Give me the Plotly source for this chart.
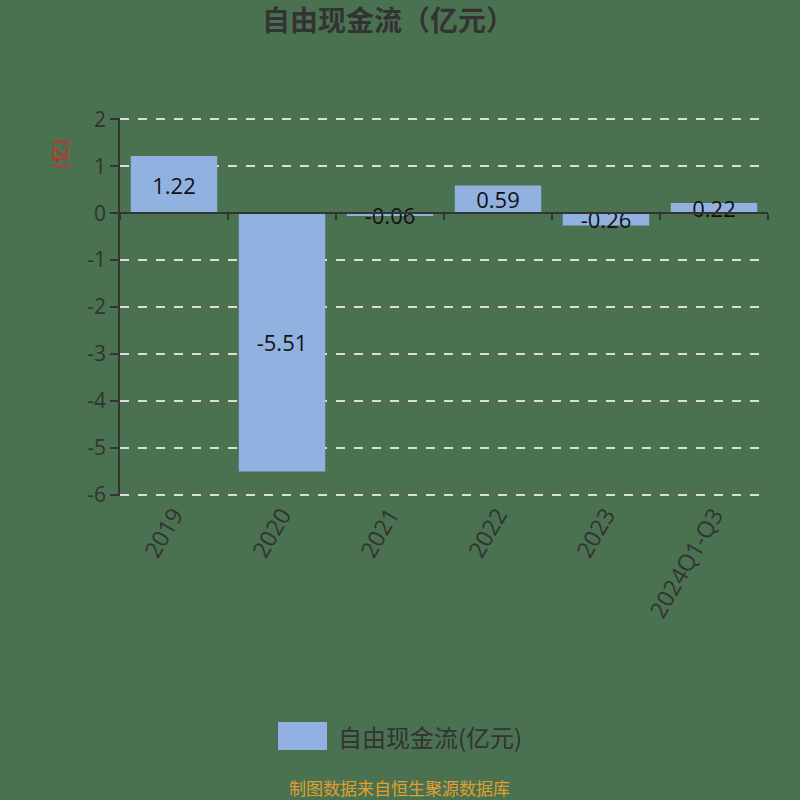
import plotly.graph_objects as go

# données
annees = ['2019', '2020', '2021', '2022', '2023', '2024Q1-Q3']
fcf = [1.22, -5.51, -0.06, 0.59, -0.26, 0.22]
labels = ['1.22', '-5.51', '-0.06', '0.59', '-0.26', '0.22']
y_ticks = [2, 1, 0, -1, -2, -3, -4, -5, -6]
y_ticktext = ['2', '1', '0', '-1', '-2', '-3', '-4', '-5', '-6']

fond = '#4a7150'
bleu = '#91b1e0'
gris = '#333333'
police = 'Open Sans, Noto Sans CJK SC, sans-serif'

fig = go.Figure()

fig.add_trace(go.Bar(
    x=annees, y=fcf, text=labels,
    textposition='inside', insidetextanchor='middle', constraintext='none',
    textfont=dict(size=22, color='#111111', family=police),
    marker=dict(color=bleu, line=dict(width=0)),
    width=0.8, showlegend=False, cliponaxis=False,
))

# trace invisible pour l'axe x placé sur y=0
fig.add_trace(go.Bar(
    x=annees, y=fcf, xaxis='x2', opacity=0,
    showlegend=False, hoverinfo='skip',
))

y_min, y_max = -6.03, 2.03

fig.update_layout(
    width=800, height=800,
    paper_bgcolor=fond, plot_bgcolor=fond,
    margin=dict(l=120, r=32, t=118, b=304),
    font=dict(family=police, color=gris),
    title=dict(text='<b>自由现金流（亿元）</b>', x=0.485, xanchor='center',
               y=0.973, yanchor='middle',
               font=dict(size=28, color=gris, family='Noto Sans CJK SC')),
    xaxis=dict(showline=False, ticks='', showgrid=False, tickangle=-60,
               tickfont=dict(size=23, color=gris)),
    xaxis2=dict(overlaying='x', anchor='free',
                position=(0 - y_min) / (y_max - y_min),
                showline=True, linecolor=gris, linewidth=1.5,
                ticks='outside', tickson='boundaries', ticklen=6,
                tickcolor=gris, tickwidth=1.5,
                showticklabels=False, showgrid=False,
                categoryorder='array', categoryarray=annees),
    yaxis=dict(range=[y_min, y_max], tickvals=y_ticks, ticktext=y_ticktext,
               showline=True, linecolor=gris, linewidth=1.5,
               ticks='outside', ticklen=8, tickcolor=gris, tickwidth=1.5,
               tickfont=dict(size=21, color=gris),
               showgrid=True, gridcolor='#dddddd', gridwidth=1.5,
               griddash='dash', zeroline=False),
)

# unité de l'axe y
fig.add_annotation(text='(亿)', textangle=-90, xref='paper', yref='y',
                   x=-0.118, y=1.25, showarrow=False,
                   font=dict(size=18, color='#e02020', family='Noto Sans CJK SC'))

# légende
fig.add_shape(type='rect', xref='paper', yref='paper',
              x0=(278 - 120) / 648, x1=(327 - 120) / 648,
              y0=-(722 - 496) / 378, y1=-(750 - 496) / 378,
              fillcolor=bleu, line=dict(width=0))
fig.add_annotation(text='自由现金流(亿元)', xref='paper', yref='paper',
                   x=(336 - 120) / 648, y=-(736 - 496) / 378,
                   xanchor='left', yanchor='middle', showarrow=False,
                   font=dict(size=24, color=gris, family='Noto Sans CJK SC'))

# source
fig.add_annotation(text='制图数据来自恒生聚源数据库', xref='paper', yref='paper',
                   x=(399 - 120) / 648, y=-(787 - 496) / 378,
                   xanchor='center', yanchor='middle', showarrow=False,
                   font=dict(size=17, color='#e0a030', family='Noto Sans CJK SC'))

fig.write_html("out.html", config={'displayModeBar': False},
               post_script="document.body.style.margin='0';")
